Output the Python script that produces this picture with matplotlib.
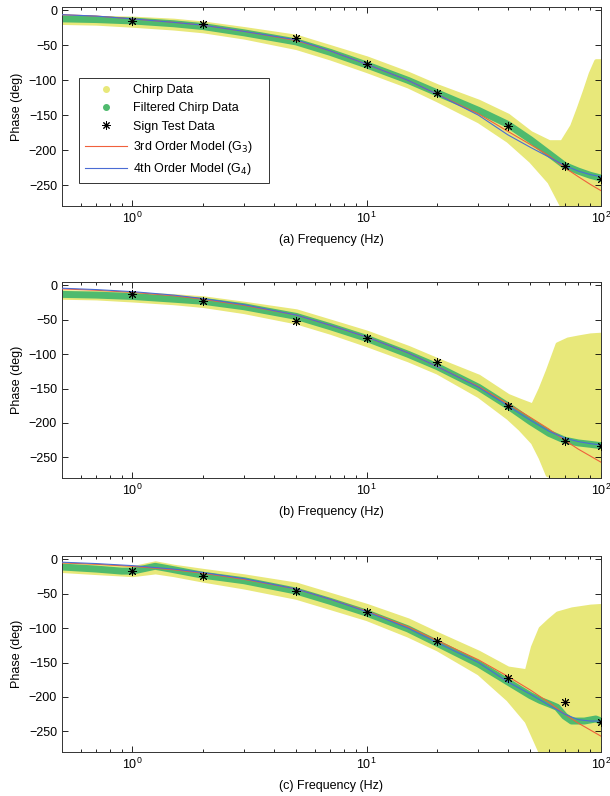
import numpy as np
import matplotlib.pyplot as plt
from matplotlib.lines import Line2D

plt.rcParams['font.family'] = ['Liberation Sans', 'DejaVu Sans']
plt.rcParams['font.size'] = 9

# frequency grid for the model / filtered curves
f_m = [0.5, 0.7, 1, 1.5, 2, 3, 5, 7, 10, 15, 20, 30, 40, 50, 60, 70, 80, 90, 100]

# sign test points
f_sign = [1, 2, 5, 10, 20, 40, 70, 100]
sign_a = [-15, -20, -39, -77, -118, -166, -223, -241]
sign_b = [-12, -22, -52, -76, -112, -176, -226, -233]
sign_c = [-17, -24, -46, -77, -118, -172, -208, -236]

# (a)
f_a_band = [0.5, 0.7, 1, 1.5, 2, 3, 5, 7, 10, 15, 20, 30, 40, 50, 60, 68, 75, 80, 85, 90, 95, 100]
up_a = [-9, -10, -11, -14, -18, -26, -37, -52, -68, -90, -108, -130, -150, -175, -188, -188,
        -165, -140, -115, -90, -72, -72]
lo_a = [-17, -18, -21, -25, -29, -38, -53, -68, -86, -108, -128, -158, -186, -215, -245, -280,
        -280, -280, -280, -280, -280, -280]
green_a = [-12, -13, -15, -19, -23, -32, -45, -60, -78, -100, -118, -143, -163, -185, -205,
           -222, -230, -236, -240]
red_a = [-6, -8, -12, -17, -21, -30, -43, -58, -77, -100, -120, -148, -173, -192, -208, -225,
         -238, -249, -258]
blue_a = [-6, -8, -12, -17, -21, -30, -42, -58, -77, -100, -120, -150, -178, -196, -210, -222,
          -230, -235, -238]

# (b)
f_b_band = [0.5, 0.7, 1, 1.5, 2, 3, 5, 7, 10, 15, 20, 30, 40, 45, 51, 55, 59, 65, 72, 80, 90, 100]
up_b = [-9, -10, -12, -15, -18, -26, -37, -52, -68, -90, -108, -132, -160, -167, -174, -150,
        -124, -85, -78, -75, -72, -71]
lo_b = [-17, -18, -21, -25, -29, -38, -53, -68, -86, -108, -126, -160, -192, -208, -228, -250,
        -275, -280, -280, -280, -280, -280]
green_b = [-13, -14, -16, -20, -23, -31, -45, -60, -77, -100, -118, -148, -175, -198, -215,
           -225, -229, -231, -233]
red_b = [-5, -7, -10, -15, -20, -29, -43, -58, -75, -98, -118, -147, -172, -192, -209, -225,
         -238, -248, -257]
blue_b = [-4, -6, -9, -14, -19, -28, -43, -58, -75, -98, -118, -148, -175, -196, -212, -222,
          -227, -230, -232]

# (c)
f_c = [0.5, 0.7, 0.9, 1, 1.1, 1.25, 1.4, 2, 3, 5, 7, 10, 15, 20, 30, 40, 50, 55, 60, 65, 70,
       75, 85, 95, 100]
green_c = [-11, -14, -17, -17, -14, -10, -13, -23, -31, -46, -61, -78, -101, -122, -152, -178,
           -198, -205, -210, -215, -228, -235, -235, -232, -235]
f_c_band = [0.5, 0.7, 1, 1.25, 1.5, 2, 3, 5, 7, 10, 15, 20, 30, 40, 48, 51, 55, 60, 65, 75, 90, 100]
up_c = [-7, -9, -12, -5, -10, -16, -24, -36, -51, -67, -88, -108, -135, -158, -162, -127,
        -100, -88, -78, -72, -68, -67]
lo_c = [-16, -19, -22, -18, -22, -30, -40, -55, -70, -86, -110, -130, -165, -203, -235, -255,
        -280, -280, -280, -280, -280, -280]
red_c = [-5, -7, -10, -15, -20, -29, -43, -58, -75, -98, -118, -146, -170, -190, -208, -225,
         -238, -248, -257]
blue_c = [-4, -6, -9, -14, -19, -28, -43, -58, -76, -100, -121, -150, -178, -196, -212, -225,
          -233, -235, -235]

yellow = '#e8e87a'
green = '#4fba6e'
red = '#f0603c'
blue = '#4a6cd4'

panels = [
    ('(a)', f_a_band, up_a, lo_a, f_m, green_a, red_a, blue_a, sign_a, 0.7412, 0.2500),
    ('(b)', f_b_band, up_b, lo_b, f_m, green_b, red_b, blue_b, sign_b, 0.3995, 0.2462),
    ('(c)', f_c_band, up_c, lo_c, f_c, green_c, red_c, blue_c, sign_c, 0.0553, 0.2462),
]

fig = plt.figure(figsize=(6.1, 7.96), dpi=100)

for i, (tag, fb, up, lo, fg, gr, rd, bl, sg, bottom, height) in enumerate(panels):
    ax = fig.add_axes([0.1016, bottom, 0.8836, height])
    ax.fill_between(fb, lo, up, color=yellow, edgecolor=yellow, linewidth=3, zorder=1)
    ax.plot(fg, gr, color=green, lw=5, solid_capstyle='round', zorder=2)
    ax.plot(f_m, rd, color=red, lw=0.8, zorder=3)
    ax.plot(f_m, bl, color=blue, lw=0.8, zorder=4)
    ax.plot(f_sign, sg, ls='none', marker=(8, 2, 0), ms=6.5, mec='black', mew=0.7, zorder=5)

    ax.set_xscale('log')
    ax.set_xlim(0.5, 100)
    ax.set_ylim(-280, 5)
    ax.set_yticks([0, -50, -100, -150, -200, -250])
    ax.set_yticklabels(['0', '\u221250', '\u2212100', '\u2212150', '\u2212200', '\u2212250'])
    ax.tick_params(which='both', direction='in', top=True, right=True, labelsize=9)
    ax.tick_params(which='major', length=4, width=0.6)
    ax.tick_params(which='minor', length=2.5, width=0.6)
    for s in ax.spines.values():
        s.set_linewidth(0.7)
        s.set_color('#333333')
    ax.set_ylabel('Phase (deg)', fontsize=9)
    ax.set_xlabel(tag + ' Frequency (Hz)', fontsize=9, labelpad=6)

    if i == 0:
        handles = [
            Line2D([], [], ls='none', marker='o', ms=4, mfc=yellow, mec=yellow),
            Line2D([], [], ls='none', marker='o', ms=4, mfc=green, mec=green),
            Line2D([], [], ls='none', marker=(8, 2, 0), ms=6, mec='black', mew=0.7),
            Line2D([], [], color=red, lw=0.8),
            Line2D([], [], color=blue, lw=0.8),
        ]
        labels = ['Chirp Data', 'Filtered Chirp Data', 'Sign Test Data',
                  '3rd Order Model (G$_3$)', '4th Order Model (G$_4$)']
        leg = ax.legend(handles, labels, loc='upper left',
                        bbox_to_anchor=(0.02, 0.1, 0.375, 0.575), mode='expand',
                        fontsize=9, handlelength=3.3, labelspacing=0.5, borderpad=0.5,
                        handletextpad=0.5, fancybox=False, framealpha=1)
        leg.get_frame().set_edgecolor('#333333')
        leg.get_frame().set_linewidth(0.7)

fig.savefig('out.png', dpi=100)
